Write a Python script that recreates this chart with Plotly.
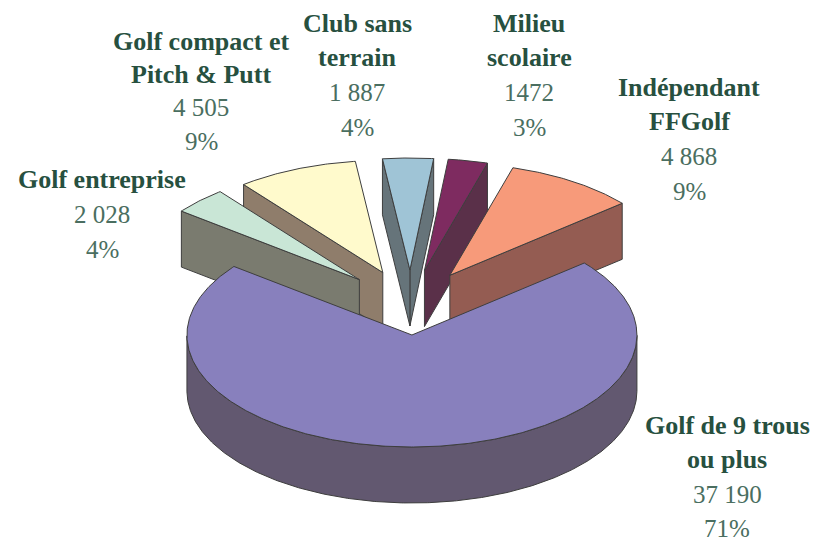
import numpy as np
import plotly.graph_objects as go

# Data, counter-clockwise from the first slice
categories = ["Indépendant FFGolf", "Milieu scolaire", "Club sans terrain",
              "Golf compact et Pitch & Putt", "Golf entreprise", "Golf de 9 trous ou plus"]
values = [4868, 1472, 1887, 4505, 2028, 37190]
value_labels = ["4 868", "1472", "1 887", "4 505", "2 028", "37 190"]
percent_labels = ["9%", "3%", "4%", "9%", "4%", "71%"]
name_lines = [["Indépendant", "FFGolf"], ["Milieu", "scolaire"], ["Club sans", "terrain"],
              ["Golf compact et", "Pitch & Putt"], ["Golf entreprise"], ["Golf de 9 trous", "ou plus"]]

# Styles
top_colors = ["#F79A7A", "#7E2B60", "#9FC4D6", "#FFFACC", "#C9E6D6", "#8880BD"]
side_colors = ["#945C52", "#5A3049", "#66747A", "#8F7D6B", "#7A7B6F", "#625870"]
draw_order = [2, 1, 0, 3, 4, 5]
label_x = [689, 529, 357, 201, 102, 727]
label_y = [87, 23, 23, 41, 179, 425]
label_step = [34.7, 34.7, 34.7, 33.4, 35, 34.6]

# Projection of the tilted pie onto the page
CX, CY = 410.5, 302.5
RX, RY = 225, 112
DEPTH = 56
PULL_X, PULL_Y = 72, 32.5
START_DEG = 40
EDGE = "#3E3E3E"
BOLD = "#27503F"
LIGHT = "#4A6E60"

fig = go.Figure()


def poly(xs, ys, fill):
    fig.add_trace(go.Scatter(x=xs, y=ys, mode="lines", fill="toself", fillcolor=fill,
                             line=dict(color=EDGE, width=1), hoverinfo="skip", showlegend=False))


sweeps = np.array(values) / sum(values) * 360
edges = START_DEG + np.concatenate([[0], np.cumsum(sweeps)])

for i in draw_order:
    a0, a1 = np.radians(edges[i]), np.radians(edges[i + 1])
    mid = (a0 + a1) / 2
    ax = CX + PULL_X * np.cos(mid)
    ay = CY - PULL_Y * np.sin(mid)
    t = np.linspace(a0, a1, max(int(edges[i + 1] - edges[i]) * 2, 6))
    ox = ax + RX * np.cos(t)
    oy = ay - RY * np.sin(t)
    # radial cut faces: only those turned towards the viewer
    if np.cos(a0) > 0 and np.sin(a0) > 0 and i != 5:
        poly([ax, ox[0], ox[0], ax, ax], [ay, oy[0], oy[0] + DEPTH, ay + DEPTH, ay], side_colors[i])
    if np.cos(a1) < 0 and i != 5:
        poly([ax, ox[-1], ox[-1], ax, ax], [ay, oy[-1], oy[-1] + DEPTH, ay + DEPTH, ay], side_colors[i])
    # outer rim: the front half only
    front = np.sin(t) <= 0
    if front.any():
        fx, fy = ox[front], oy[front]
        poly(np.r_[fx, fx[::-1], fx[0]], np.r_[fy, fy[::-1] + DEPTH, fy[0]], side_colors[i])
    # top face
    poly(np.r_[ax, ox, ax], np.r_[ay, oy, ay], top_colors[i])

for i in range(len(categories)):
    lines = [(s, True) for s in name_lines[i]] + [(value_labels[i], False), (percent_labels[i], False)]
    for k, (s, bold) in enumerate(lines):
        fig.add_annotation(x=label_x[i], y=label_y[i] + k * label_step[i], text=f"<b>{s}</b>" if bold else s,
                           showarrow=False, xanchor="center", yanchor="middle",
                           font=dict(family="Liberation Serif", size=26 if bold else 25,
                                     color=BOLD if bold else LIGHT))

fig.update_layout(width=819, height=541, margin=dict(l=0, r=0, t=0, b=0),
                  paper_bgcolor="white", plot_bgcolor="white", showlegend=False,
                  xaxis=dict(range=[0, 819], visible=False, fixedrange=True),
                  yaxis=dict(range=[541, 0], visible=False, fixedrange=True))
fig.write_html("out.html", config={"displayModeBar": False},
               post_script="document.body.style.margin='0';document.body.style.overflow='hidden';")
